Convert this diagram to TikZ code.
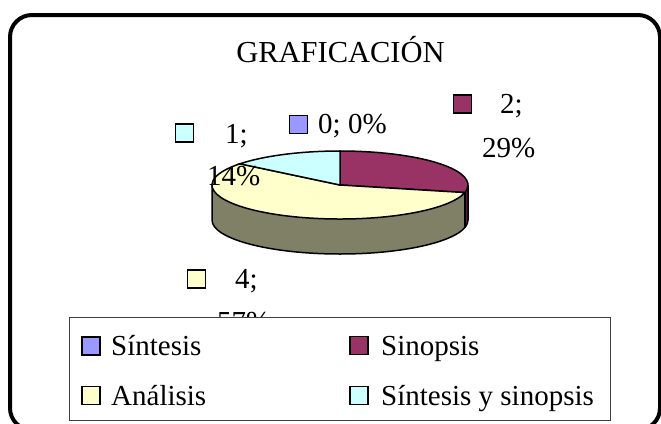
\documentclass[tikz,border=0pt]{standalone}
\usepackage{fontspec}
\setmainfont{Liberation Serif}

\definecolor{sintesis}{HTML}{9999FF}
\definecolor{sinopsis}{HTML}{993366}
\definecolor{analisis}{HTML}{FFFFCC}
\definecolor{ambos}{HTML}{CCFFFF}
\definecolor{analisisside}{HTML}{808066}
\definecolor{sinopsisside}{HTML}{5C1F3D}

\newcommand{\lblfont}{\fontsize{29}{30}\selectfont}

\begin{document}
\begin{tikzpicture}[x=1pt, y=-1pt,
    marker/.style={draw, line width=1.2pt, minimum size=18pt, inner sep=0pt},
    lbl/.style={font=\lblfont, inner sep=0pt, anchor=base west}]
    \useasboundingbox (0,0) rectangle (661,423);

    % Frame
    \draw[line width=4pt, rounded corners=22pt] (10,15) rectangle (660,430);

    % Title
    \node (title) at (340.5,62) [anchor=base, inner sep=0pt, font=\fontsize{30.5}{32}\selectfont] {GRAFICACIÓN};

    % Pie
    \begin{scope}[shift={(340,185)}, yscale=-1, line width=1.5pt]
        % side
        \fill[analisisside] (180:128 and 34) arc[start angle=180, end angle=347.14, x radius=128, y radius=34]
            -- ++(0,-35) arc[start angle=347.14, end angle=180, x radius=128, y radius=34] -- cycle;
        \fill[sinopsisside] (347.14:128 and 34) arc[start angle=347.14, end angle=360, x radius=128, y radius=34]
            -- ++(0,-35) arc[start angle=360, end angle=347.14, x radius=128, y radius=34] -- cycle;
        \draw (180:128 and 34) -- ++(0,-35) arc[start angle=180, end angle=360, x radius=128, y radius=34] -- ++(0,35);
        \draw (347.14:128 and 34) -- ++(0,-35);

        % top
        \filldraw[fill=sinopsis] (0,0) -- (90:128 and 34) arc[start angle=90, end angle=-12.86, x radius=128, y radius=34] -- cycle;
        \filldraw[fill=analisis] (0,0) -- (-12.86:128 and 34) arc[start angle=-12.86, end angle=-218.57, x radius=128, y radius=34] -- cycle;
        \filldraw[fill=ambos] (0,0) -- (141.43:128 and 34) arc[start angle=141.43, end angle=90, x radius=128, y radius=34] -- cycle;
    \end{scope}

    % Data labels
    \node (mambos) at (184.5,133) [marker, fill=ambos] {};
    \node (vambos) at (225,143) [lbl] {1;};
    \node (pambos) at (207,185) [lbl] {14\%};

    \node (msintesis) at (298.5,124.5) [marker, fill=sintesis] {};
    \node (vsintesis) at (318,133) [lbl] {0; 0\%};

    \node (msinopsis) at (462.5,104) [marker, fill=sinopsis] {};
    \node (vsinopsis) at (500,113) [lbl] {2;};
    \node (psinopsis) at (482,157) [lbl] {29\%};

    \node (manalisis) at (196.5,279) [marker, fill=analisis] {};
    \node (vanalisis) at (235,288) [lbl] {4;};
    \node (panalisis) at (217,331) [lbl] {57\%};

    % Legend
    \draw[fill=white, draw=black!75, line width=1pt] (69,317) rectangle (610,420);
    \node (lsintesis) at (91,346) [marker, fill=sintesis] {};
    \node at (111,355) [lbl] (tsintesis) {Síntesis};
    \node (lanalisis) at (91,395.5) [marker, fill=analisis] {};
    \node at (111,405) [lbl] (tanalisis) {Análisis};
    \node (lsinopsis) at (359,345.5) [marker, fill=sinopsis] {};
    \node at (381,355) [lbl] (tsinopsis) {Sinopsis};
    \node (lambos) at (359,395.5) [marker, fill=ambos] {};
    \node at (381,405) [lbl] (tambos) {Síntesis y sinopsis};

\end{tikzpicture}
\end{document}
